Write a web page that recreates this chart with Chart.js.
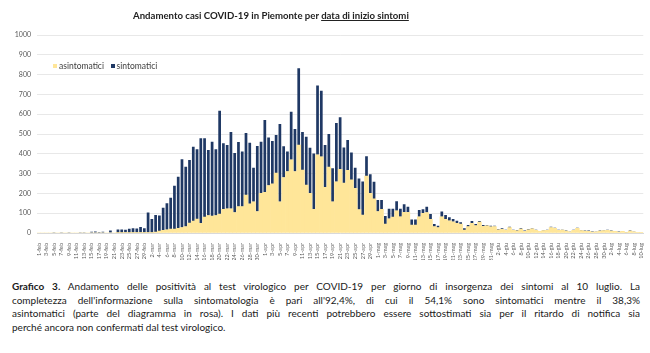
<!DOCTYPE html>
<html lang="it">
<head>
<meta charset="UTF-8">
<title>Andamento casi COVID-19 in Piemonte</title>
<script src="https://cdn.jsdelivr.net/npm/chart.js@4"></script>
<style>
  body { margin: 0; background: #fff; }
  #wrap { position: relative; width: 650px; height: 353px; font-family: Lato, "Open Sans", sans-serif; }
  #titolo { position: absolute; left: 133px; top: 10px; font-size: 9.6px; font-weight: bold; color: #222; white-space: nowrap; }
  #titolo u { text-underline-offset: 1px; }
  #box { position: absolute; left: 0; top: 0; width: 650px; height: 260px; }
  #legenda { position: absolute; left: 53px; top: 61px; font-size: 8.5px; color: #404040; white-space: nowrap; }
  #legenda span.q { display: inline-block; width: 4px; height: 4px; margin-right: 2px; vertical-align: 1px; }
  #didascalia { position: absolute; left: 12px; top: 280px; width: 628px; font-size: 10px; line-height: 13.6px; color: #1a1a1a; }
  #didascalia div { text-align: justify; text-align-last: justify; white-space: nowrap; }
  #didascalia div.ultima { text-align-last: left; }
</style>
</head>
<body>
<div id="wrap">
  <div id="box"><canvas id="grafico"></canvas></div>
  <div id="titolo">Andamento casi COVID-19 in Piemonte per <u>data di inizio sintomi</u></div>
  <div id="legenda"><span class="q" style="background:#FFE699"></span>asintomatici &nbsp;&nbsp;<span class="q" style="background:#1F3864"></span>sintomatici</div>
  <div id="didascalia">
    <div><b>Grafico 3.</b> Andamento delle positività al test virologico per COVID-19 per giorno di insorgenza dei sintomi al 10 luglio. La</div>
    <div>completezza dell'informazione sulla sintomatologia è pari all'92,4%, di cui il 54,1% sono sintomatici mentre il 38,3%</div>
    <div>asintomatici (parte del diagramma in rosa). I dati più recenti potrebbero essere sottostimati sia per il ritardo di notifica sia</div>
    <div class="ultima">perché ancora non confermati dal test virologico.</div>
  </div>
</div>
<script>
// mesi e giorni (1 feb - 10 lug 2020)
var mesi = ['feb', 'mar', 'apr', 'mag', 'giu', 'lug'];
var giorniMese = [29, 31, 30, 31, 30, 10];

var asintomatici = [
  0, 0, 0, 0, 0, 0, 0, 0, 0, 0,
  0, 0, 0, 0, 0, 0, 0, 0, 0, 0,
  0, 1, 1, 2, 1, 2, 2, 3, 2, 3,
  3, 5, 10, 14, 16, 20, 20, 24, 28, 32,
  50, 60, 70, 49, 80, 88, 85, 88, 95, 120,
  122, 122, 103, 133, 133, 192, 147, 158, 108, 200,
  205, 240, 248, 303, 158, 280, 310, 370, 310, 444,
  318, 242, 200, 120, 395, 385, 231, 333, 158, 259,
  322, 252, 316, 268, 225, 118, 91, 288, 200, 172,
  108, 120, 45, 72, 80, 112, 82, 105, 105, 40,
  40, 82, 99, 103, 69, 32, 27, 82, 69, 62,
  57, 49, 45, 15, 32, 49, 37, 55, 34, 36,
  31, 33, 16, 19, 13, 27, 14, 11, 20, 9,
  16, 21, 14, 8, 12, 14, 28, 23, 14, 15,
  10, 6, 14, 24, 12, 10, 9, 5, 6, 10,
  12, 14, 10, 8, 5, 8, 4, 10, 6, 2,
  2
];

var sintomatici = [
  0, 2, 0, 0, 1, 0, 1, 2, 1, 3,
  2, 1, 4, 3, 6, 7, 5, 6, 3, 12,
  2, 17, 17, 15, 21, 22, 21, 27, 22, 101,
  68, 86, 78, 114, 134, 158, 219, 260, 344, 303,
  319, 376, 353, 429, 398, 331, 376, 335, 523, 333,
  322, 388, 301, 327, 278, 313, 309, 172, 331, 261,
  366, 242, 217, 192, 393, 158, 101, 243, 215, 388,
  192, 244, 230, 282, 350, 333, 213, 167, 169, 296,
  262, 180, 154, 138, 105, 157, 169, 99, 97, 87,
  59, 47, 41, 51, 43, 48, 40, 40, 28, 28,
  28, 34, 21, 30, 27, 13, 10, 26, 22, 17,
  14, 13, 9, 9, 8, 12, 8, 6, 6, 4,
  6, 4, 4, 5, 4, 5, 3, 4, 4, 3,
  4, 3, 3, 2, 3, 3, 4, 4, 3, 2,
  2, 2, 3, 3, 3, 2, 3, 2, 2, 2,
  3, 3, 2, 2, 2, 2, 1, 2, 2, 1,
  0
];

var yTicks = [0, 100, 200, 300, 400, 500, 600, 700, 800, 900, 1000];

var giorni = [];
for (var m = 0; m < mesi.length; m++) {
  for (var d = 1; d <= giorniMese[m]; d++) {
    giorni.push(d + '-' + mesi[m]);
  }
}

var ctx = document.getElementById('grafico').getContext('2d');
var chart = new Chart(ctx, {
  type: 'bar',
  data: {
    labels: giorni,
    datasets: [{
      label: 'asintomatici',
      data: asintomatici,
      backgroundColor: '#FFE699',
      barPercentage: 1.0,
      categoryPercentage: 1.0
    }, {
      label: 'sintomatici',
      data: sintomatici,
      backgroundColor: '#1F3864',
      barPercentage: 0.72,
      categoryPercentage: 1.0
    }]
  },
  options: {
    responsive: true,
    maintainAspectRatio: false,
    animation: false,
    layout: { padding: { top: 35, right: 5, left: 0, bottom: 0 } },
    plugins: {
      legend: { display: false },
      title: { display: false },
      tooltip: { enabled: false }
    },
    scales: {
      x: {
        stacked: true,
        grid: { display: false },
        border: { display: true, color: '#d9d9d9' },
        ticks: {
          autoSkip: false,
          maxRotation: 90,
          minRotation: 90,
          padding: 2,
          color: '#595959',
          font: { family: 'Lato', size: 5.5 },
          callback: function(val, i) { return i % 2 === 0 ? giorni[i] : ''; }
        },
        afterFit: function(s) { s.height = 27; }
      },
      y: {
        stacked: true,
        min: 0,
        max: 1000,
        afterBuildTicks: function(s) { s.ticks = yTicks.map(function(v) { return { value: v }; }); },
        grid: { color: '#e8e8e8', drawTicks: false },
        border: { display: false },
        ticks: {
          padding: 6,
          color: '#595959',
          font: { family: 'Lato', size: 7 },
          callback: function(v) { return String(v); }
        },
        afterFit: function(s) { s.width = 37; }
      }
    }
  }
});
</script>
</body>
</html>
